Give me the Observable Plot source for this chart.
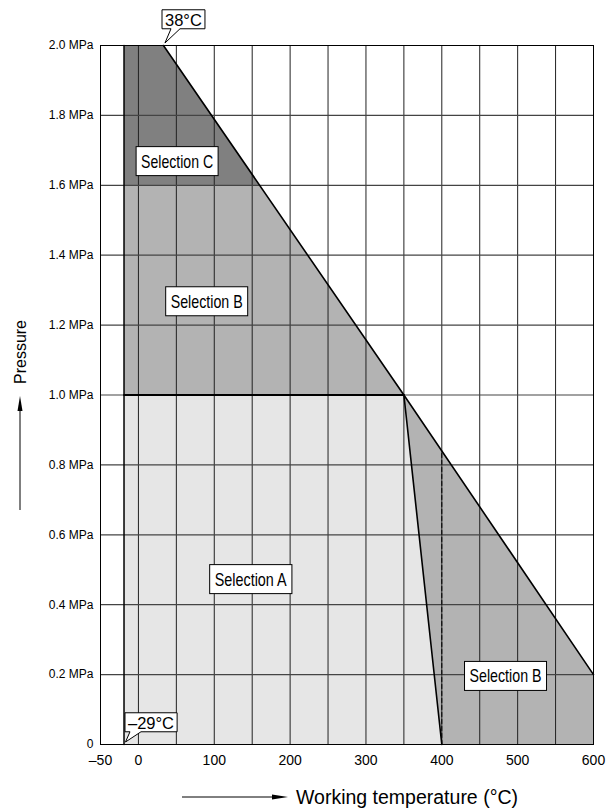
<!DOCTYPE html>
<html><head><meta charset="utf-8">
<script src="https://cdn.jsdelivr.net/npm/d3@7"></script>
<script src="https://cdn.jsdelivr.net/npm/@observablehq/plot@0.6"></script>
<style>body{margin:0;background:#fff;} svg{display:block;}</style>
</head><body><div id="chart"></div>
<script>
// axis ticks
const xTicks = [-50, 0, 100, 200, 300, 400, 500, 600];
const yTicks = [0, 0.2, 0.4, 0.6, 0.8, 1.0, 1.2, 1.4, 1.6, 1.8, 2.0];
const xGrid = [0, 50, 100, 150, 200, 250, 300, 350, 400, 450, 500, 550];
const yGrid = [0.2, 0.4, 0.6, 0.8, 1.0, 1.2, 1.4, 1.6, 1.8];

// region vertices [temperature °C, pressure MPa] (as drawn)
const regionC = [[-19, 1.6], [-19, 2.0], [33, 2.0], [160, 1.6]];
const regionBUpper = [[-19, 1.0], [-19, 1.6], [160, 1.6], [350, 1.0]];
const regionA = [[-19, 0], [-19, 1.0], [350, 1.0], [400, 0]];
const regionBLower = [[350, 1.0], [400, 0], [600, 0], [600, 0.2]];

// boundary lines
const ratingLine = [[33, 2.0], [350, 1.0], [600, 0.2]];
const slantLine = [[350, 1.0], [400, 0]];
const leftLine = [[-19, 0], [-19, 2.0]];
const midLine = [[-19, 1.0], [350, 1.0]];
const dashedLine = [[400, 0], [400, 0.84]];

// region labels
const labelText = ["Selection C", "Selection B", "Selection A", "Selection B"];
const labelX = [51, 90, 148, 484];
const labelY = [1.668, 1.267, 0.472, 0.195];

// callouts
const calloutText = ["38°C", "–29°C"];
const calloutX = [33, -19];
const calloutY = [2.0, 0];

const colC = "#808080", colB = "#b3b3b3", colA = "#e6e6e6";
const X = d => d[0], Y = d => d[1];
const FONT = "Liberation Sans, Arial, Helvetica, sans-serif";

const labels = labelText.map((t, i) => ({t, x: labelX[i], y: labelY[i]}));
const callouts = calloutText.map((t, i) => ({t, x: calloutX[i], y: calloutY[i]}));
const calloutDx = [20, 27], calloutDy = [-25, -21];
const notch = [[9, 18], [5, 16]];

const chart = Plot.plot({
  width: 616, height: 811,
  marginLeft: 100, marginRight: 23, marginTop: 45, marginBottom: 67,
  style: {fontFamily: FONT, fontSize: "12px", background: "#fff"},
  x: {domain: [-50, 600]},
  y: {domain: [0, 2.0]},
  marks: [
    Plot.line(regionA, {x: X, y: Y, fill: colA, stroke: "none"}),
    Plot.line(regionBUpper, {x: X, y: Y, fill: colB, stroke: "none"}),
    Plot.line(regionBLower, {x: X, y: Y, fill: colB, stroke: "none"}),
    Plot.line(regionC, {x: X, y: Y, fill: colC, stroke: "none"}),
    Plot.ruleX(xGrid, {y1: 0, y2: 2.0, stroke: "#222", strokeWidth: 1}),
    Plot.ruleY(yGrid, {stroke: "#444", strokeWidth: 1.2}),
    Plot.line(leftLine, {x: X, y: Y, stroke: "#000", strokeWidth: 1.5}),
    Plot.line(midLine, {x: X, y: Y, stroke: "#000", strokeWidth: 1.8}),
    Plot.line(ratingLine, {x: X, y: Y, stroke: "#000", strokeWidth: 1.6}),
    Plot.line(slantLine, {x: X, y: Y, stroke: "#000", strokeWidth: 1.6}),
    Plot.line(dashedLine, {x: X, y: Y, stroke: "#000", strokeWidth: 1, strokeDasharray: "4,3"}),
    Plot.frame({stroke: "#000", strokeWidth: 1}),
    Plot.axisX({ticks: xTicks, tickSize: 0, tickPadding: 11, fontSize: 14, label: null,
      tickFormat: d => d < 0 ? "–" + (-d) : String(d)}),
    Plot.axisY({ticks: yTicks, tickSize: 0, tickPadding: 7, fontSize: 12, label: null,
      tickFormat: d => d === 0 ? "0" : d.toFixed(1) + " MPa"}),
    Plot.text(labels, {x: "x", y: "y", text: "t", className: "boxlabel", fontSize: 19,
      fontFamily: FONT, fill: "#000"}),
    Plot.text(callouts, {x: "x", y: "y", text: "t", className: "callout", fontSize: 16.5,
      fontFamily: FONT, fill: "#000"})
  ]
});
document.getElementById("chart").append(chart);

const svg = d3.select(chart);
const svgRect = chart.getBoundingClientRect();
const sx = chart.scale("x"), sy = chart.scale("y");

// shift callout texts
svg.selectAll("g.callout text").each(function(d, i) {
  const t = d3.select(this);
  const tr = t.attr("transform") || "";
  t.attr("transform", tr + ` translate(${calloutDx[i]},${calloutDy[i]})`);
});

// condensed region labels + boxes
svg.selectAll("g.boxlabel text").each(function() {
  d3.select(this).attr("textLength", 72).attr("lengthAdjust", "spacingAndGlyphs");
  const r = this.getBoundingClientRect();
  const g = this.parentNode;
  const padX = 5, padY = 4;
  svg.insert("rect", () => g)
    .attr("x", r.left - svgRect.left - padX)
    .attr("y", r.top - svgRect.top - padY)
    .attr("width", r.width + 2 * padX)
    .attr("height", r.height + 2 * padY)
    .attr("fill", "#fff").attr("stroke", "#000").attr("stroke-width", 1);
});

// callout boxes with pointer
svg.selectAll("g.callout text").each(function(d, i) {
  const r = this.getBoundingClientRect();
  const g = this.parentNode;
  const L = r.left - svgRect.left - 3, R = r.right - svgRect.left + 3;
  const T = r.top - svgRect.top - 1, B = r.bottom - svgRect.top;
  const tipX = sx.apply(calloutX[i]) + 2, tipY = sy.apply(calloutY[i]) - 2;
  const [a, b] = notch[i];
  const p = `M${L},${T}H${R}V${B}H${L + b}L${tipX},${tipY}L${L + a},${B}H${L}Z`;
  svg.insert("path", () => g)
    .attr("d", p).attr("fill", "#fff").attr("stroke", "#000").attr("stroke-width", 1);
});

// axis titles with arrows
const deco = svg.append("g").attr("font-family", FONT).attr("text-anchor", "start");
deco.append("text").attr("transform", "translate(20,352) rotate(-90)")
  .attr("text-anchor", "middle").attr("dy", "0.35em")
  .attr("font-size", 16).text("Pressure");
deco.append("line").attr("x1", 20).attr("x2", 20).attr("y1", 510).attr("y2", 408)
  .attr("stroke", "#000").attr("stroke-width", 1);
deco.append("path").attr("d", "M20,396L17.5,411L22.5,411Z").attr("fill", "#000");
deco.append("line").attr("x1", 182).attr("x2", 275).attr("y1", 797).attr("y2", 797)
  .attr("stroke", "#000").attr("stroke-width", 1);
deco.append("path").attr("d", "M288,797L272,794.5L272,799.5Z").attr("fill", "#000");
deco.append("text").attr("x", 296).attr("y", 797).attr("dy", "0.35em")
  .attr("text-anchor", "start").attr("font-size", 19.5)
  .text("Working temperature (°C)");
</script>
</body></html>
